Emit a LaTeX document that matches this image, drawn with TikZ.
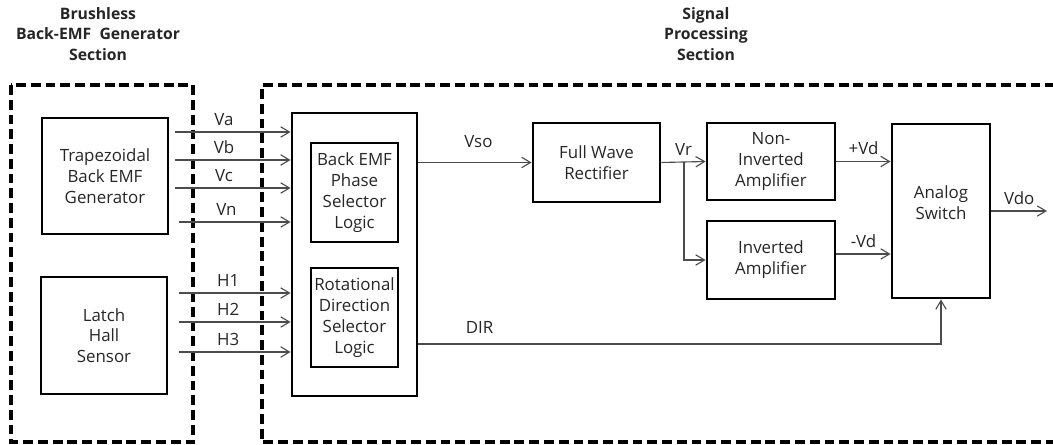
\documentclass[tikz,border=0pt]{standalone}
\usepackage{fontspec}
\setmainfont{Open Sans}
\usetikzlibrary{arrows.meta}

\begin{document}
\begin{tikzpicture}[x=0.025cm, y=-0.025cm,
	every node/.style={font=\fontsize{12}{14.8}\selectfont, text=black!85},
	blk/.style={draw=black, line width=2pt, align=center, inner sep=0pt},
	sect/.style={draw=black, line width=2.2pt, dash pattern=on 7pt off 3.5pt},
	sig/.style={draw=black!70, line width=0.8pt, -{Straight Barb[length=0.22cm, width=0.26cm]}},
	lbl/.style={above=1pt}]
	\useasboundingbox (0,0) rectangle (1053,445);

	\node[font=\bfseries\fontsize{11.2}{14.5}\selectfont, align=center] (gentitle) at (98,34) {Brushless\\Back-EMF~ Generator\\Section};
	\node[font=\bfseries\fontsize{11.2}{14.5}\selectfont, align=center] (sigtitle) at (706,34) {Signal\\Processing\\Section};
	\draw[sect] (11,85) rectangle (193,442);
	\draw[sect] (1070,85) -- (262,85) -- (262,442) -- (1070,442);

	\node[blk, minimum width=3.15cm, minimum height=2.9cm] (trap) at (105,176) {Trapezoidal\\Back EMF\\Generator};
	\node[blk, minimum width=3.15cm, minimum height=2.925cm] (hall) at (104,335.5) {Latch\\Hall\\Sensor};
	\node[blk, minimum width=3.125cm, minimum height=7.075cm] (logic) at (354.5,254.5) {};
	\node[blk, minimum width=2.175cm, minimum height=2.475cm] (phase) at (354.5,192.5) {Back EMF\\Phase\\Selector\\Logic};
	\node[blk, minimum width=2.175cm, minimum height=2.475cm] (rot) at (354.5,317.5) {Rotational\\Direction\\Selector\\Logic};
	\node[blk, minimum width=3.175cm, minimum height=1.975cm] (fwr) at (596.5,162.5) {Full Wave\\Rectifier};
	\node[blk, minimum width=3.2cm, minimum height=1.925cm] (noninv) at (771,161.5) {Non-\\Inverted\\Amplifier};
	\node[blk, minimum width=3.2cm, minimum height=1.95cm] (inv) at (771,260) {Inverted\\Amplifier};
	\node[blk, minimum width=2.45cm, minimum height=4.35cm, text depth=12pt] (switch) at (941,211) {Analog\\Switch};

	\foreach \y/\name in {132/Va, 160/Vb, 188/Vc}
		\draw[sig, shorten <=0.15cm] (trap.east |- 0,\y) -- node[lbl, pos=0.45] {\name} (logic.west |- 0,\y);
	\draw[sig, shorten <=0.25cm] (trap.east |- 0,222) -- node[lbl, pos=0.47] {Vn} (logic.west |- 0,222);
	\foreach \y/\name in {293/H1, 322/H2, 352/H3}
		\draw[sig, shorten <=0.27cm] (hall.east |- 0,\y) -- node[lbl, pos=0.49] {\name} (logic.west |- 0,\y);

	\draw[sig] (logic.east |- fwr.west) -- node[above=6.5pt, pos=0.53] {Vso} (fwr.west);
	\draw[sig] (fwr.east) -- node[lbl] {Vr} (noninv.west);
	\coordinate (split) at (684,162.5);
	\draw[sig] (split) |- (inv.west);
	\draw[sig] (noninv.east) -- node[lbl] {+Vd} (switch.west |- noninv.east);
	\draw[sig] (inv.east |- 0,254) -- node[lbl] {-Vd} (switch.west |- 0,254);
	\coordinate (out) at (1047,211);
	\draw[sig] (switch.east) -- node[lbl] {Vdo} (out);
	\draw[sig] (logic.east |- 0,344) -- node[above=3.5pt, pos=0.117] {DIR} (switch.south |- 0,344) -- (switch.south);
\end{tikzpicture}
\end{document}
